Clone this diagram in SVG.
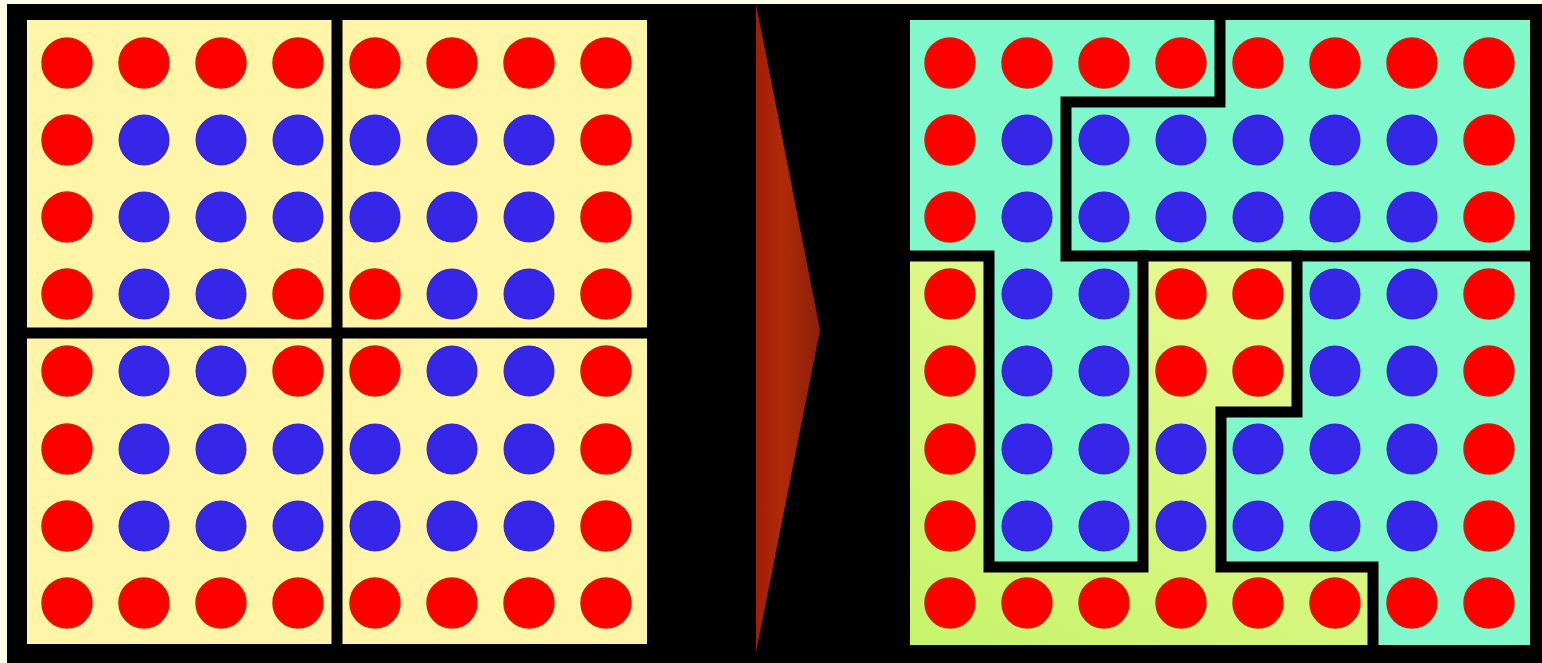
<svg xmlns="http://www.w3.org/2000/svg" width="1542" height="663" viewBox="0 0 1542 663">
<style>
.r{fill:#FF0000;stroke:#D41E00;stroke-width:1.5}
.b{fill:#3626E8;stroke:#2C1ECC;stroke-width:1}
.line{fill:none;stroke:#000;stroke-width:11;stroke-linejoin:miter;stroke-linecap:square}
</style>
<defs>
<linearGradient id="arrowGrad" x1="0" y1="0" x2="1" y2="0">
<stop offset="0" stop-color="#A01E06"/>
<stop offset="0.4" stop-color="#B02A0A"/>
<stop offset="1" stop-color="#8C2008"/>
</linearGradient>
<linearGradient id="ygGrad" x1="0" y1="1" x2="0.6" y2="0">
<stop offset="0" stop-color="#C6F46C"/>
<stop offset="1" stop-color="#E6F892"/>
</linearGradient>
<g id="rowR">
<circle class="r" cx="67" cy="0" r="25"/><circle class="r" cx="144" cy="0" r="25"/><circle class="r" cx="221" cy="0" r="25"/><circle class="r" cx="298" cy="0" r="25"/><circle class="r" cx="375" cy="0" r="25"/><circle class="r" cx="452" cy="0" r="25"/><circle class="r" cx="529" cy="0" r="25"/><circle class="r" cx="606" cy="0" r="25"/>
</g>
<g id="rowA">
<circle class="r" cx="67" cy="0" r="25"/><circle class="b" cx="144" cy="0" r="25"/><circle class="b" cx="221" cy="0" r="25"/><circle class="b" cx="298" cy="0" r="25"/><circle class="b" cx="375" cy="0" r="25"/><circle class="b" cx="452" cy="0" r="25"/><circle class="b" cx="529" cy="0" r="25"/><circle class="r" cx="606" cy="0" r="25"/>
</g>
<g id="rowB">
<circle class="r" cx="67" cy="0" r="25"/><circle class="b" cx="144" cy="0" r="25"/><circle class="b" cx="221" cy="0" r="25"/><circle class="r" cx="298" cy="0" r="25"/><circle class="r" cx="375" cy="0" r="25"/><circle class="b" cx="452" cy="0" r="25"/><circle class="b" cx="529" cy="0" r="25"/><circle class="r" cx="606" cy="0" r="25"/>
</g>
<g id="dots">
<use href="#rowR" transform="translate(0,63)"/>
<use href="#rowA" transform="translate(0,140)"/>
<use href="#rowA" transform="translate(0,217)"/>
<use href="#rowB" transform="translate(0,294)"/>
<use href="#rowB" transform="translate(0,371)"/>
<use href="#rowA" transform="translate(0,449)"/>
<use href="#rowA" transform="translate(0,526)"/>
<use href="#rowR" transform="translate(0,603)"/>
</g>
</defs>
<rect x="0" y="0" width="1542" height="663" fill="#000"/>
<rect x="0" y="0" width="1542" height="4" fill="#FFFDE6"/>
<rect x="0" y="0" width="7" height="663" fill="#FFFDE6"/>

<g id="left-grid">
<rect x="27" y="20" width="620" height="624" fill="#FFF5A8"/>
<use href="#dots"/>
</g>

<g id="arrow">
<polygon points="756,4 820,330 756,652" fill="url(#arrowGrad)"/>
</g>

<g id="right-grid">
<rect x="910" y="20" width="620" height="625" fill="#80F8CC"/>
<polygon points="910,256 989,256 989,567 1143,567 1143,256 1297,256 1297,412 1221,412 1221,567 1373,567 1373,645 910,645" fill="url(#ygGrad)"/>
<use href="#dots" transform="translate(883,0)"/>
</g>

<g id="connectors">
<line class="line" x1="337" y1="20" x2="337" y2="644" stroke-linecap="butt"/>
<line class="line" x1="27" y1="333" x2="647" y2="333" stroke-linecap="butt"/>
<path class="line" d="M1220,20 V102 H1066 V256 H1530"/>
<path class="line" d="M910,256 H989 V567 H1143 V256"/>
<path class="line" d="M1297,256 V412 H1221 V567 H1373 V645"/>
</g>
</svg>
